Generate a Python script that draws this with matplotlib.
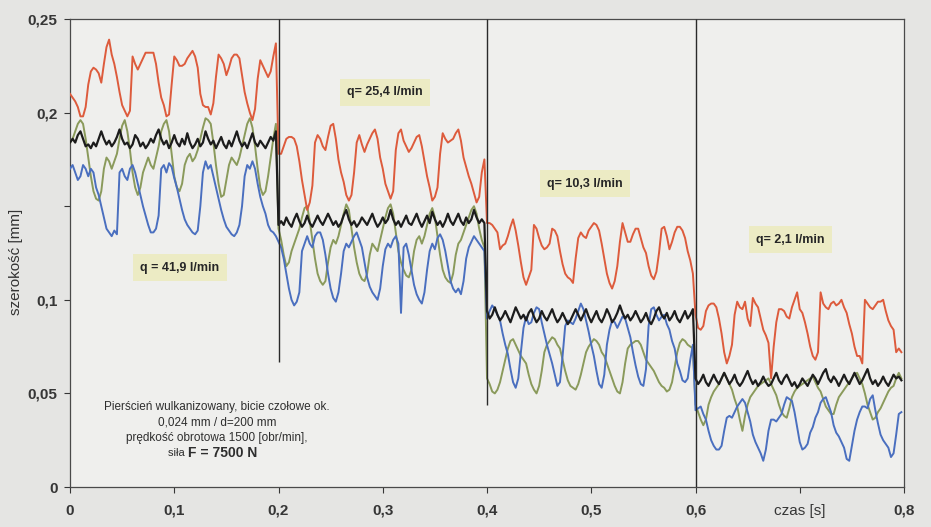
import numpy as np
import matplotlib
matplotlib.use("Agg")
import matplotlib.pyplot as plt

plt.rcParams['font.family'] = ['Liberation Sans', 'DejaVu Sans']

# Sampling interval of the recorded width signals [s]
dt = 0.0025

# Measured width in micrometres, four flow-rate segments of 0.2 s each
red_um = [
    210, 208, 206, 203, 198, 198, 203, 215, 222, 224, 223, 221, 216, 226, 235, 239, 231, 226, 219, 211,
    204, 201, 198, 201, 230, 226, 223, 226, 229, 232, 232, 232, 232, 226, 216, 208, 204, 198, 199, 215,
    230, 228, 225, 225, 226, 229, 231, 233, 230, 224, 210, 204, 203, 203, 199, 205, 219, 231, 229, 226,
    220, 224, 229, 231, 231, 229, 220, 211, 205, 200, 196, 202, 218, 228, 225, 222, 219, 222, 230, 237,
    178, 178, 182, 186, 187, 187, 186, 182, 174, 164, 156, 148, 152, 161, 184, 188, 186, 182, 180, 187,
    193, 194, 186, 175, 168, 163, 156, 153, 156, 168, 184, 188, 183, 179, 183, 186, 189, 191, 186, 176,
    170, 162, 158, 154, 158, 180, 189, 191, 185, 182, 179, 181, 184, 187, 188, 182, 174, 166, 160, 153,
    155, 160, 178, 189, 186, 184, 185, 186, 189, 191, 185, 176, 171, 166, 162, 157, 152, 155, 168, 175,
    141, 141, 140, 138, 136, 127, 129, 130, 134, 139, 143, 137, 129, 120, 112, 108, 112, 116, 140, 138,
    133, 129, 127, 128, 130, 138, 137, 134, 126, 119, 114, 112, 111, 109, 122, 133, 136, 134, 133, 137,
    139, 141, 140, 137, 130, 122, 114, 109, 106, 110, 118, 131, 141, 136, 131, 131, 135, 138, 138, 133,
    128, 125, 118, 113, 111, 115, 125, 138, 139, 134, 127, 131, 136, 139, 139, 137, 133, 126, 121, 114,
    92, 85, 84, 86, 94, 97, 98, 98, 96, 90, 82, 72, 66, 70, 76, 92, 99, 96, 95, 99,
    90, 86, 101, 98, 96, 90, 84, 81, 77, 58, 75, 88, 95, 95, 94, 91, 90, 96, 100, 104,
    95, 93, 88, 82, 75, 70, 68, 72, 104, 98, 96, 95, 98, 99, 97, 98, 100, 96, 93, 87,
    82, 75, 70, 70, 66, 100, 98, 96, 95, 97, 99, 99, 100, 94, 89, 86, 84, 72, 74, 72,
]

green_um = [
    184, 186, 190, 194, 196, 194, 186, 176, 166, 158, 154, 153, 158, 170, 176, 174, 170, 174, 178, 186,
    193, 196, 190, 180, 168, 160, 156, 160, 168, 172, 176, 172, 170, 176, 182, 190, 194, 196, 190, 178,
    166, 160, 158, 162, 172, 176, 178, 174, 176, 180, 186, 192, 197, 196, 194, 184, 172, 162, 155, 156,
    164, 172, 176, 174, 172, 176, 182, 188, 194, 197, 192, 182, 170, 160, 156, 158, 166, 176, 186, 194,
    138, 132, 124, 118, 120, 126, 130, 134, 138, 144, 149, 150, 142, 132, 122, 114, 110, 108, 110, 120,
    128, 132, 130, 134, 140, 146, 151, 148, 138, 128, 120, 114, 111, 110, 114, 124, 130, 128, 126, 132,
    138, 144, 149, 151, 146, 136, 126, 120, 116, 113, 112, 116, 126, 132, 134, 130, 134, 140, 146, 149,
    144, 134, 124, 116, 112, 110, 109, 114, 124, 130, 132, 136, 140, 144, 148, 150, 146, 138, 132, 128,
    58, 55, 51, 50, 52, 56, 62, 68, 74, 78, 79, 76, 73, 70, 68, 66, 60, 55, 52, 50,
    54, 62, 72, 76, 78, 80, 79, 76, 74, 68, 62, 57, 54, 53, 52, 55, 60, 66, 72, 75,
    77, 79, 78, 76, 72, 70, 66, 62, 58, 54, 51, 50, 56, 66, 74, 76, 77, 78, 78, 76,
    72, 68, 66, 64, 62, 59, 56, 54, 53, 51, 52, 56, 64, 72, 77, 79, 78, 76, 75, 74,
    44, 40, 36, 33, 36, 44, 48, 51, 53, 55, 58, 61, 58, 55, 52, 47, 43, 36, 30, 38,
    44, 48, 50, 52, 54, 55, 56, 57, 58, 55, 52, 49, 44, 40, 38, 37, 42, 48, 51, 53,
    54, 55, 56, 57, 58, 59, 56, 53, 51, 47, 43, 41, 39, 39, 44, 48, 50, 52, 54, 56,
    58, 60, 61, 58, 55, 50, 44, 40, 36, 37, 40, 42, 45, 48, 51, 53, 54, 58, 61, 58,
]

blue_um = [
    170, 172, 168, 164, 166, 172, 170, 166, 170, 168, 160, 156, 150, 144, 138, 136, 134, 137, 135, 168,
    170, 166, 164, 170, 172, 168, 162, 156, 150, 145, 140, 136, 136, 138, 145, 170, 172, 168, 173, 171,
    165, 160, 154, 148, 143, 140, 138, 136, 135, 137, 150, 168, 174, 170, 172, 166, 160, 154, 148, 143,
    139, 137, 135, 134, 136, 140, 150, 166, 172, 170, 174, 170, 162, 155, 150, 146, 140, 137, 136, 134,
    131, 128, 122, 114, 106, 100, 97, 99, 104, 126, 130, 134, 130, 128, 134, 136, 136, 132, 124, 114,
    106, 101, 99, 104, 114, 126, 130, 128, 131, 134, 136, 132, 128, 120, 112, 107, 104, 102, 100, 106,
    118, 127, 130, 128, 132, 134, 130, 93, 128, 130, 124, 116, 108, 103, 100, 98, 104, 116, 126, 130,
    127, 133, 135, 132, 126, 118, 110, 106, 104, 106, 103, 110, 122, 128, 131, 134, 132, 130, 128, 126,
    90, 94, 97, 95, 92, 89, 82, 76, 71, 63, 56, 53, 58, 72, 85, 91, 87, 88, 93, 96,
    95, 88, 82, 76, 71, 66, 60, 54, 56, 70, 86, 89, 88, 87, 90, 94, 98, 95, 89, 83,
    76, 70, 62, 55, 53, 60, 76, 84, 89, 88, 85, 88, 91, 90, 85, 80, 72, 65, 59, 55,
    54, 63, 86, 95, 96, 92, 89, 91, 92, 87, 84, 78, 74, 66, 62, 57, 56, 58, 68, 76,
    41, 42, 43, 39, 36, 30, 25, 22, 20, 20, 22, 30, 37, 38, 37, 40, 43, 45, 47, 45,
    40, 35, 28, 24, 21, 18, 14, 20, 30, 36, 36, 35, 37, 39, 44, 48, 47, 46, 40, 32,
    24, 20, 21, 23, 29, 32, 37, 40, 45, 47, 48, 44, 40, 33, 29, 27, 24, 21, 15, 14,
    22, 30, 36, 40, 43, 43, 42, 47, 49, 41, 34, 28, 25, 23, 21, 16, 18, 28, 39, 40,
]

black_um = [
    184, 186, 184, 188, 190, 186, 182, 183, 181, 184, 182, 186, 190, 186, 183, 185, 182, 184, 187, 191,
    186, 183, 184, 181, 183, 188, 186, 182, 184, 181, 183, 186, 184, 188, 191, 186, 183, 185, 181, 184,
    188, 184, 182, 186, 183, 189, 184, 181, 183, 186, 182, 184, 190, 186, 183, 185, 181, 184, 187, 183,
    181, 185, 182, 186, 190, 185, 182, 184, 181, 185, 189, 184, 182, 185, 183, 181, 184, 187, 185, 190,
    140, 142, 140, 144, 141, 139, 143, 146, 142, 139, 141, 145, 141, 139, 142, 145, 142, 140, 143, 146,
    143, 140, 142, 139, 141, 145, 148, 143, 140, 142, 139, 141, 144, 142, 140, 143, 146, 142, 139, 141,
    144, 141, 143, 148, 143, 140, 142, 139, 142, 145, 141, 140, 143, 146, 142, 139, 142, 145, 141, 147,
    143, 140, 142, 139, 142, 146, 142, 140, 143, 146, 142, 140, 144, 141, 143, 148, 144, 141, 143, 141,
    94, 90, 92, 96, 92, 89, 91, 94, 91, 88, 92, 96, 93, 90, 92, 89, 93, 95, 91, 88,
    90, 94, 91, 89, 92, 95, 91, 88, 90, 93, 90, 87, 89, 92, 95, 92, 89, 92, 95, 91,
    88, 91, 94, 90, 88, 91, 95, 92, 88, 90, 93, 97, 93, 90, 92, 89, 91, 94, 91, 88,
    90, 93, 89, 87, 90, 94, 96, 92, 90, 93, 89, 91, 94, 90, 88, 91, 94, 90, 92, 95,
    58, 55, 57, 60, 56, 54, 57, 60, 57, 55, 58, 61, 58, 55, 57, 60, 56, 54, 56, 59,
    62, 58, 55, 57, 54, 56, 59, 56, 54, 55, 58, 61, 57, 55, 58, 60, 57, 54, 56, 53,
    55, 58, 56, 54, 57, 60, 58, 55, 58, 61, 63, 58, 56, 59, 57, 54, 57, 60, 57, 55,
    58, 61, 58, 55, 57, 60, 63, 58, 55, 57, 54, 56, 59, 56, 54, 57, 60, 58, 59, 57,
]

# Segment boundaries (change of coolant flow) and how far down each marker reaches [mm]
sep_t = [0.2, 0.4, 0.6]
sep_low = [0.067, 0.044, 0.0]

# Flow-rate labels: text, time [s], width [mm]
flow_labels = ["q = 41,9 l/min", "q= 25,4 l/min", "q= 10,3 l/min", "q= 2,1 l/min"]
flow_x = [0.1055, 0.302, 0.494, 0.691]
flow_y = [0.117, 0.211, 0.162, 0.132]

x_ticks = [0, 0.1, 0.2, 0.3, 0.4, 0.5, 0.6, 0.7, 0.8]
x_ticklabels = ["0", "0,1", "0,2", "0,3", "0,4", "0,5", "0,6", "czas [s]", "0,8"]
y_ticks = [0, 0.05, 0.1, 0.15, 0.2, 0.25]
y_ticklabels = ["0", "0,05", "0,1", "", "0,2", "0,25"]

info_lines = [
    "Pierścień wulkanizowany, bicie czołowe ok.",
    "0,024 mm / d=200 mm",
    "prędkość obrotowa 1500 [obr/min],",
]
info_y = [0.0427, 0.0347, 0.0264]

t = np.arange(len(red_um)) * dt
to_mm = lambda v: np.asarray(v, dtype=float) / 1000.0

fig = plt.figure(figsize=(9.31, 5.27), dpi=100, facecolor="#e5e5e3")
ax = fig.add_axes([0.0752, 0.0759, 0.8958, 0.888])
ax.set_facecolor("#efefed")

ax.plot(t, to_mm(green_um), color="#8a9a5b", lw=1.4, zorder=3)
ax.plot(t, to_mm(blue_um), color="#4a6fbf", lw=1.4, zorder=4)
ax.plot(t, to_mm(red_um), color="#dd5b3c", lw=1.4, zorder=3)
ax.plot(t, to_mm(black_um), color="#1c1c1c", lw=1.6, zorder=5)

ax.vlines(sep_t, sep_low, 0.25, color="#2a2a2a", lw=1.0, zorder=6)

ax.set_xlim(0, 0.8)
ax.set_ylim(0, 0.25)

ax.set_xticks(x_ticks)
ax.set_xticklabels(x_ticklabels)
ax.set_yticks(y_ticks)
ax.set_yticklabels(y_ticklabels)
for lab in ax.get_xticklabels() + ax.get_yticklabels():
    lab.set_fontweight("bold")
ax.get_xticklabels()[7].set_fontweight("normal")
ax.tick_params(axis="both", labelsize=11, colors="#363636", length=4, width=0.8, direction="out")
ax.tick_params(axis="x", pad=8)
ax.tick_params(axis="y", pad=5)

for sp in ax.spines.values():
    sp.set_color("#4a4a4a")
    sp.set_linewidth(0.9)

fig.text(16 / 931, 1 - 262 / 527, "szerokość [mm]", rotation=90, ha="center", va="center",
         fontsize=11, color="#333333")

for txt, fx, fy in zip(flow_labels, flow_x, flow_y):
    ax.text(fx, fy, txt, ha="center", va="center", fontsize=9, fontweight="bold",
            color="#262626", zorder=7,
            bbox=dict(boxstyle="square,pad=0.6", fc="#ecebc4", ec="none"))

for line, iy in zip(info_lines, info_y):
    ax.text(0.141, iy, line, ha="center", va="center", fontsize=8.5, color="#2e2e2e", zorder=7)
ax.text(0.113, 0.0182, "siła ", ha="right", va="center", fontsize=8, color="#2e2e2e", zorder=7)
ax.text(0.113, 0.0182, "F = 7500 N", ha="left", va="center", fontsize=10, fontweight="bold",
        color="#2e2e2e", zorder=7)

fig.savefig("out.png", dpi=100, facecolor=fig.get_facecolor())
